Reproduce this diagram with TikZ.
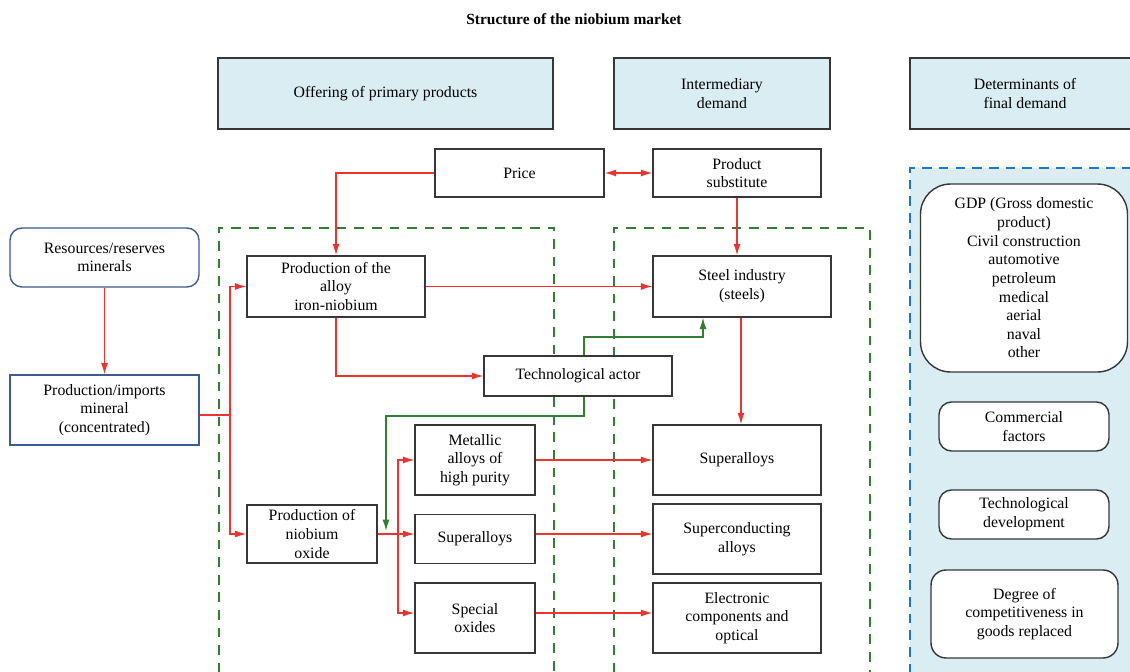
\documentclass[tikz,border=0pt]{standalone}
\usepackage{fontspec}
\setmainfont{Liberation Serif}
\newfontfamily\nbserif{Liberation Serif}
\usepackage{tikz}
\usetikzlibrary{arrows.meta,positioning,calc}
\definecolor{nbred}{RGB}{236,52,46}
\definecolor{nbgreen}{RGB}{52,125,52}
\definecolor{nbblue}{RGB}{30,118,200}
\definecolor{nbframe}{RGB}{60,90,150}
\definecolor{nbfill}{RGB}{217,237,243}
\definecolor{nbgray}{RGB}{55,55,55}
\tikzstyle{plainbox} = [draw=nbgray,line width=0.8pt,fill=white,align=center,inner sep=1pt,font=\nbserif\fontsize{9}{10.6}\selectfont]
\tikzstyle{headbox} = [plainbox,fill=nbfill,minimum height=1.42cm]
\tikzstyle{roundbox} = [plainbox,rounded corners=0.25cm]
\tikzstyle{bluebox} = [plainbox,draw=nbframe]
\tikzstyle{redflow} = [draw=nbred,line width=0.75pt]
\tikzstyle{greenflow} = [draw=nbgreen,line width=0.75pt]
\tikzstyle{arr} = [-{Latex[length=6.5pt,width=4pt]}]

\begin{document}
\begin{tikzpicture}[x=0.02cm,y=-0.02cm]
    \useasboundingbox (0,0) rectangle (1130,672);

    % final demand panel and dashed groups
    \fill [nbfill] (910,168) rectangle (1140,690);
    \draw [nbblue,line width=0.9pt,dash pattern=on 5.5pt off 4pt] (910,690) -- (910,168) -- (1140,168);
    \draw [nbgreen,line width=0.7pt,dash pattern=on 5.5pt off 4.5pt] (219,690) -- (219,228) -- (554,228) -- (554,690);
    \draw [nbgreen,line width=0.7pt,dash pattern=on 5.5pt off 4.5pt] (614,690) -- (614,228) -- (870,228) -- (870,690);

    \node [font=\nbserif\fontsize{8.8}{10}\selectfont\bfseries] (title) at (574,19) {Structure of the niobium market};

    \node [headbox,minimum width=6.7cm] (hoffer) at (385.5,93.5) {Offering of primary products};
    \node [headbox,minimum width=4.32cm] (hinter) at (722,93.5) {Intermediary\\demand};
    \node [headbox,minimum width=4.6cm] (hfinal) at (1025,93.5) {Determinants of\\final demand};

    \node [plainbox,minimum width=3.38cm,minimum height=0.96cm] (price) at (519.5,173) {Price};
    \node [plainbox,minimum width=3.36cm,minimum height=0.96cm] (subst) at (737,173) {Product\\substitute};

    \node [bluebox,rounded corners=0.24cm,minimum width=3.78cm,minimum height=1.18cm] (resources) at (104.5,257.5) {Resources/reserves\\minerals};
    \node [bluebox,minimum width=3.78cm,minimum height=1.4cm] (mineral) at (104.5,410) {Production/imports\\mineral\\(concentrated)};

    \node [plainbox,minimum width=3.56cm,minimum height=1.22cm] (alloy) at (336,286.5) {Production of the\\alloy\\iron-niobium};
    \node [plainbox,minimum width=3.56cm,minimum height=1.22cm] (steel) at (742,286.5) {Steel industry\\(steels)};
    \node [plainbox,minimum width=3.76cm,minimum height=0.8cm] (techactor) at (578,376) {Technological actor};

    \node [plainbox,minimum width=2.6cm,minimum height=1.16cm] (oxide) at (312,534) {Production of\\niobium\\oxide};
    \node [plainbox,minimum width=2.4cm,minimum height=1.4cm] (metallic) at (475,460) {Metallic\\alloys of\\high purity};
    \node [plainbox,minimum width=2.4cm,minimum height=0.98cm] (superleft) at (475,539) {Superalloys};
    \node [plainbox,minimum width=2.4cm,minimum height=1.4cm] (special) at (475,618) {Special\\oxides};

    \node [plainbox,minimum width=3.36cm,minimum height=1.4cm] (superright) at (737,460) {Superalloys};
    \node [plainbox,minimum width=3.36cm,minimum height=1.4cm] (supercond) at (737,539) {Superconducting\\alloys};
    \node [plainbox,minimum width=3.36cm,minimum height=1.4cm] (electronic) at (737,618) {Electronic\\components and\\optical};

    \node [roundbox,rounded corners=0.6cm,minimum width=4.14cm,minimum height=3.76cm] (gdp) at (1024,278) {GDP (Gross domestic\\product)\\Civil construction\\automotive\\petroleum\\medical\\aerial\\naval\\other};
    \node [roundbox,minimum width=3.4cm,minimum height=0.98cm] (commercial) at (1024,426.5) {Commercial\\factors};
    \node [roundbox,minimum width=3.4cm,minimum height=0.98cm] (techdev) at (1024,514.5) {Technological\\development};
    \node [roundbox,rounded corners=0.3cm,minimum width=3.74cm,minimum height=1.76cm] (degree) at (1024.5,614) {Degree of\\competitiveness in\\goods replaced};

    % red flows
    \coordinate (j1) at (230,415);
    \coordinate (j2) at (398,534);
    \draw [redflow,{Latex[length=6.5pt,width=4pt]}-{Latex[length=6.5pt,width=4pt]}] (price) -- (subst);
    \draw [redflow,arr] (price.west) -| (alloy.north);
    \draw [redflow,arr] (subst.south) -- (subst.south |- steel.north);
    \draw [redflow,arr] (resources) -- (mineral);
    \draw [redflow] (mineral.east |- j1) -- (j1);
    \draw [redflow,arr] (j1) |- (alloy.west);
    \draw [redflow,arr] (j1) |- (oxide.west);
    \draw [redflow,arr] (alloy) -- (steel);
    \draw [redflow,arr] (alloy.south) |- (techactor.west);
    \draw [redflow,arr] (oxide.east) -- (oxide.east -| superleft.west);
    \draw [redflow,arr] (j2) |- (metallic.west);
    \draw [redflow,arr] (j2) |- ([yshift=0.1cm]special.west);
    \draw [redflow,arr] (steel.south -| 741,0) -- (superright.north -| 741,0);
    \draw [redflow,arr] (metallic) -- (superright);
    \draw [redflow,arr] (superleft.east |- j2) -- (supercond.west |- j2);
    \draw [redflow,arr] ([yshift=0.1cm]special.east) -- ([yshift=0.1cm]electronic.west);

    % green flows
    \coordinate (g1) at (584,337);
    \coordinate (g2) at (386,416);
    \coordinate (g3) at (386,531);
    \draw [greenflow,arr] (techactor.north -| g1) -- (g1) -| (steel.south -| 703,0);
    \draw [greenflow,arr] (techactor.south -| g1) |- (g2) -- (g3);
\end{tikzpicture}
\end{document}
